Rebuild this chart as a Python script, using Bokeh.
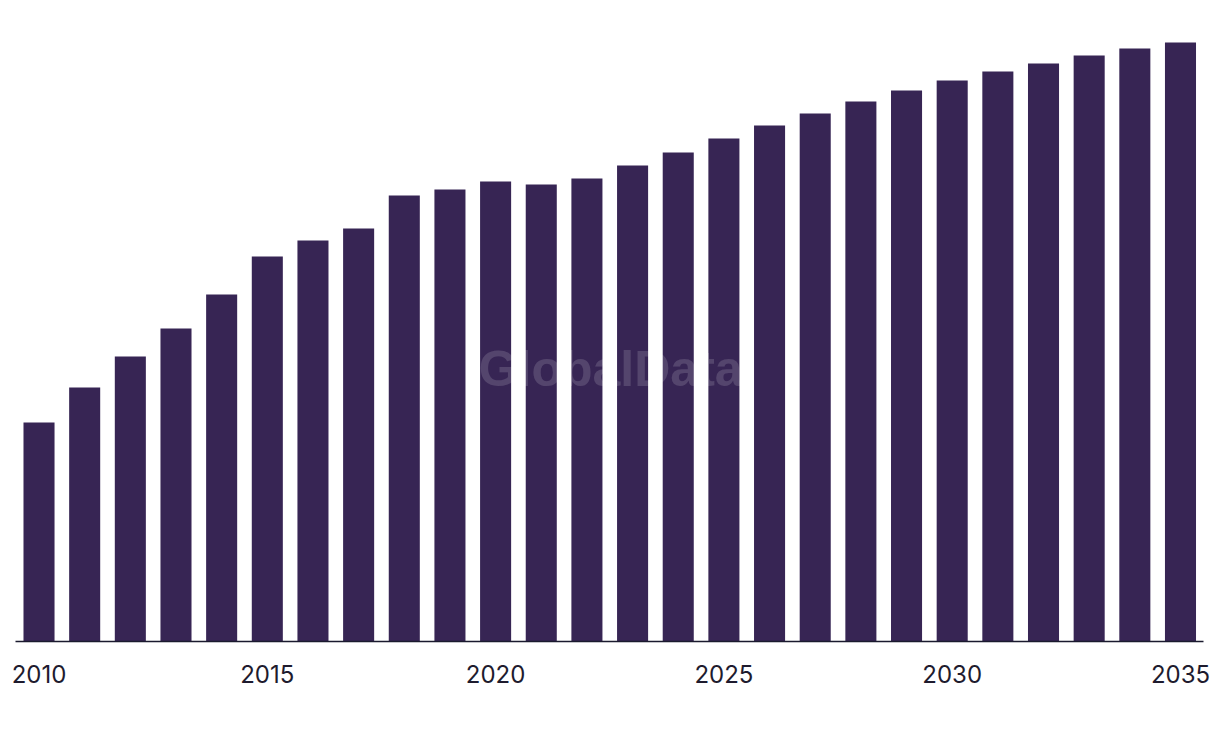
from bokeh.plotting import figure
from bokeh.models import FixedTicker, Label, Range1d
from bokeh.embed import file_html
from bokeh.resources import INLINE

years = list(range(2010, 2036))
values = [219, 254, 285, 313, 347, 385, 401, 413, 446, 452, 460, 457, 463,
          476, 489, 503, 516, 528, 540, 551, 561, 570, 578, 586, 593, 599]
tick_years = [2010, 2015, 2020, 2025, 2030, 2035]

p = figure(width=1220, height=738, output_backend="svg", toolbar_location=None,
           x_range=Range1d(2009.485, 2035.504), y_range=Range1d(0, 631),
           y_axis_location=None, min_border_left=15, min_border_right=17,
           min_border_top=10, min_border_bottom=97)
p.outline_line_color = None
p.grid.visible = False
p.background_fill_color = "white"
p.border_fill_color = "white"

p.vbar(x=years, top=values, width=0.68, color="#372554", line_color=None)

ax = p.xaxis[0]
ax.ticker = FixedTicker(ticks=tick_years)
ax.major_tick_line_color = None
ax.minor_tick_line_color = None
ax.axis_line_color = "#1a1a2e"
ax.axis_line_width = 1.5
ax.major_label_standoff = 17
ax.major_label_text_font = "Inter"
ax.major_label_text_font_size = "24px"
ax.major_label_text_color = "#1e1b2e"

wm = Label(x=2022.52, y=273, text="GlobalData", text_align="center",
           text_baseline="middle", text_font="Liberation Sans",
           text_font_style="bold", text_font_size="50px",
           text_color="white", text_alpha=0.15)
p.add_layout(wm)

open("out.html", "w").write(file_html(p, INLINE))
